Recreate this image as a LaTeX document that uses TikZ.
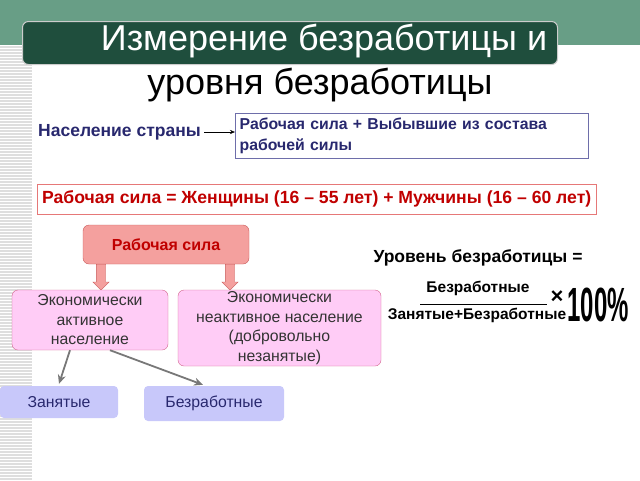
\documentclass[tikz,border=0pt]{standalone}
\usepackage{fontspec}
\setmainfont{Liberation Sans}
\usetikzlibrary{shapes.arrows, arrows.meta, positioning}

\definecolor{bandgreen}{RGB}{104, 158, 134}
\definecolor{titlegreen}{RGB}{31, 78, 61}
\definecolor{stripegray}{RGB}{222, 222, 222}
\definecolor{navytext}{RGB}{40, 40, 110}
\definecolor{boxblue}{RGB}{110, 110, 170}
\definecolor{darkred}{RGB}{192, 0, 0}
\definecolor{lightred}{RGB}{230, 120, 120}
\definecolor{salmon}{RGB}{244, 160, 158}
\definecolor{salmonline}{RGB}{200, 90, 90}
\definecolor{pinkfill}{RGB}{255, 204, 246}
\definecolor{pinkline}{RGB}{210, 100, 140}
\definecolor{lavender}{RGB}{200, 200, 250}
\definecolor{arrowgray}{RGB}{120, 120, 120}

\tikzset{
  fs/.style 2 args={font=\fontsize{#1}{#2}\selectfont},
  fsb/.style 2 args={font=\fontsize{#1}{#2}\selectfont\bfseries},
  pinkbox/.style={draw=pinkline, fill=pinkfill, rounded corners=6pt, align=center,
    text=black!80, fs={15.8}{19.5}},
  lavbox/.style={fill=lavender, rounded corners=4pt, text=navytext, fs={15.8}{19}},
  fatarrow/.style={single arrow, draw=salmonline, fill=salmon, minimum height=26pt,
    minimum width=16pt, single arrow head extend=3.5pt, single arrow tip angle=90,
    inner sep=4.5pt, rotate=-90},
  grayarrow/.style={draw=arrowgray, line width=1.8pt, -{Stealth[length=9pt, width=8pt]}}
}

\begin{document}
\begin{tikzpicture}[x=1pt, y=-1pt]
  \useasboundingbox (0,0) rectangle (640,480);

  % Background
  \fill[bandgreen] (0,0) rectangle (640,45);
  \foreach \y in {46,49,...,478}
    \fill[stripegray] (0,\y) rectangle (32,\y+1.5);

  % Title
  \node[draw=gray!40, line width=1pt, fill=titlegreen, rounded corners=6pt, minimum width=535pt,
    minimum height=43pt, anchor=north west] (titlebox) at (22,21) {};
  \node[text=white, fs={36}{42}] (titleA) at (324,41) {Измерение безработицы и};
  \node[fs={36}{42}] (titleB) at (320,85) {уровня безработицы};

  % Population
  \node[anchor=west, text=navytext, fsb={17.5}{21}, inner sep=0pt] (pop) at (38,132) {Население страны};
  \node[draw=boxblue, anchor=north west, minimum width=353pt, minimum height=45pt, text width=344pt,
    align=left, text=navytext, fsb={15.8}{21}, inner xsep=4pt] (lf) at (235,113)
    {Рабочая сила + Выбывшие из состава\\рабочей силы};
  \draw[-{Stealth[length=5pt, width=4pt]}] (pop.east) ++(3pt,0) -- (pop.east -| lf.west);

  % Labour force definition
  \node[draw=lightred, anchor=north west, minimum width=559pt, minimum height=30pt, text=darkred,
    fsb={17.6}{21}, inner xsep=2pt] (def) at (37,184)
    {Рабочая сила = Женщины (16 -- 55 лет) + Мужчины (16 -- 60 лет)};

  % Tree
  \node[draw=salmonline, fill=salmon, rounded corners=6pt, minimum width=166pt, minimum height=39pt,
    text=darkred, fsb={16}{19}] (rs) at (166,244.5) {Рабочая сила};
  \node[fatarrow, anchor=tail] (arrA) at (101,264) {};
  \node[fatarrow, anchor=tail] (arrB) at (230,264) {};

  \node[pinkbox, minimum width=156pt, minimum height=60pt, inner sep=1pt] (act) at (90,320)
    {Экономически\\активное\\население};
  \node[pinkbox, minimum width=203pt, minimum height=76pt, inner sep=1pt] (inact) at (279.5,328)
    {Экономически\\неактивное население\\(добровольно\\незанятые)};

  \node[lavbox, minimum width=118pt, minimum height=32pt] (zan) at (59,402) {Занятые};
  \node[lavbox, minimum width=140pt, minimum height=35pt] (bez) at (214,403.5) {Безработные};

  \draw[grayarrow] ([xshift=-20pt]act.south) -- ([yshift=2pt]zan.north);
  \draw[grayarrow] ([xshift=20pt]act.south) -- ([xshift=-11pt, yshift=1pt]bez.north);

  % Unemployment rate
  \node[fsb={17.5}{21}] (rate) at (478,258) {Уровень безработицы =};
  \node[fsb={15.5}{18}] (num) at (478,288) {Безработные};
  \node[fsb={15.5}{18}, inner sep=0.5pt] (den) at (477,315) {Занятые+Безработные};
  \draw[line width=1pt] (420,304) -- (547,304);
  \node[fsb={22}{26}, inner sep=0pt] (times) at (557,297) {×};
  \node[fsb={48}{56}, xscale=0.5, inner sep=0pt] (pct) at (598,305) {100\%};
\end{tikzpicture}
\end{document}
